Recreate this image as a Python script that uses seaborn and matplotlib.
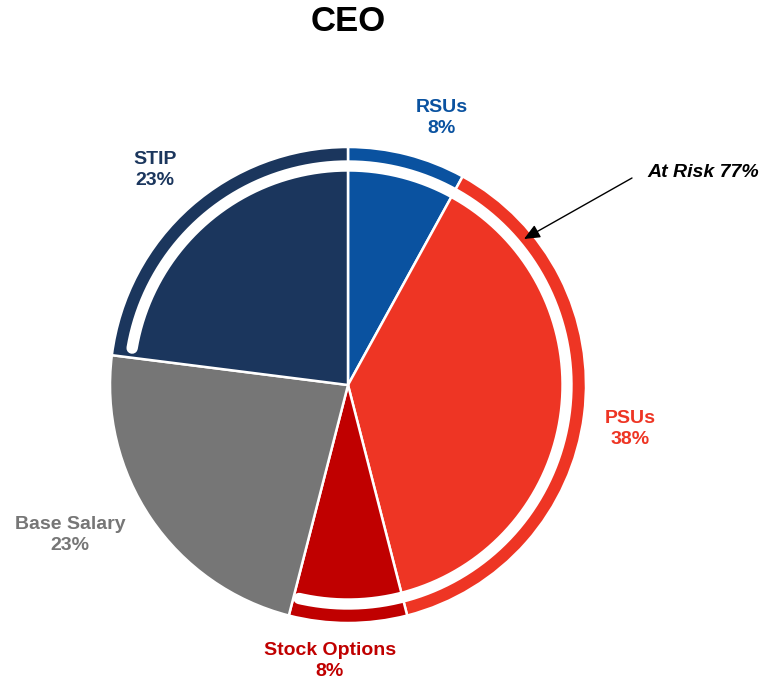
import numpy as np
import matplotlib
matplotlib.use("Agg")
import matplotlib.pyplot as plt
import seaborn as sns

# data (clockwise from 12 o'clock)
labels = ["RSUs", "PSUs", "Stock Options", "Base Salary", "STIP"]
shares = [8, 38, 8, 23, 23]
slice_colors = ["#0A52A0", "#EE3524", "#C00000", "#767676", "#1B365D"]
at_risk_label = "At Risk 77%"

sns.set_theme(style="white")
plt.rcParams["font.family"] = ["Liberation Sans", "DejaVu Sans"]
palette = sns.color_palette(slice_colors)

fig = plt.figure(figsize=(7.66, 6.85), dpi=100)
ax = fig.add_axes([0, 0, 1, 1])

cx, cy, R = 348, 300, 238
wedges, _ = ax.pie(shares, colors=palette, startangle=90, counterclock=False,
                   radius=R, center=(cx, cy), frame=True,
                   wedgeprops=dict(edgecolor="white", linewidth=1.8))
ax.set_xlim(0, 766)
ax.set_ylim(0, 685)
ax.set_aspect("equal")
ax.axis("off")

# white ring through the at-risk slices (STIP -> RSUs -> PSUs -> Stock Options)
total = sum(shares)
angles = [90]
for s in shares:
    angles.append(angles[-1] - 360 * s / total)
stip_start = angles[4] + 360
so_end = angles[3]
ring_r = 219
th = np.radians(np.linspace(stip_start - 2.5, so_end + 1.5, 300))
ax.plot(cx + ring_r * np.cos(th), cy + ring_r * np.sin(th), color="white",
        lw=8.2, solid_capstyle="round", zorder=5)

# labels
label_pos = [(442, 685 - 118), (630, 685 - 429), (330, 685 - 661),
             (70, 685 - 535), (155, 685 - 170)]
for lab, s, (x, y), c in zip(labels, shares, label_pos, palette):
    ax.text(x, y, f"{lab}\n{s}%", color=c, fontsize=14, fontweight="bold",
            ha="center", va="center", linespacing=1.3)

ax.text(348, 685 - 21, "CEO", fontsize=25, fontweight="bold", ha="center",
        va="center", color="black")

ax.text(647, 685 - 172, at_risk_label, fontsize=14, fontweight="bold",
        fontstyle="italic", ha="left", va="center", color="black")
ax.annotate("", xy=(524, 685 - 239), xytext=(632, 685 - 178),
            arrowprops=dict(arrowstyle="-|>,head_length=0.8,head_width=0.35",
                            color="black", lw=1, shrinkA=0, shrinkB=0))

fig.savefig("out.png", dpi=100)
